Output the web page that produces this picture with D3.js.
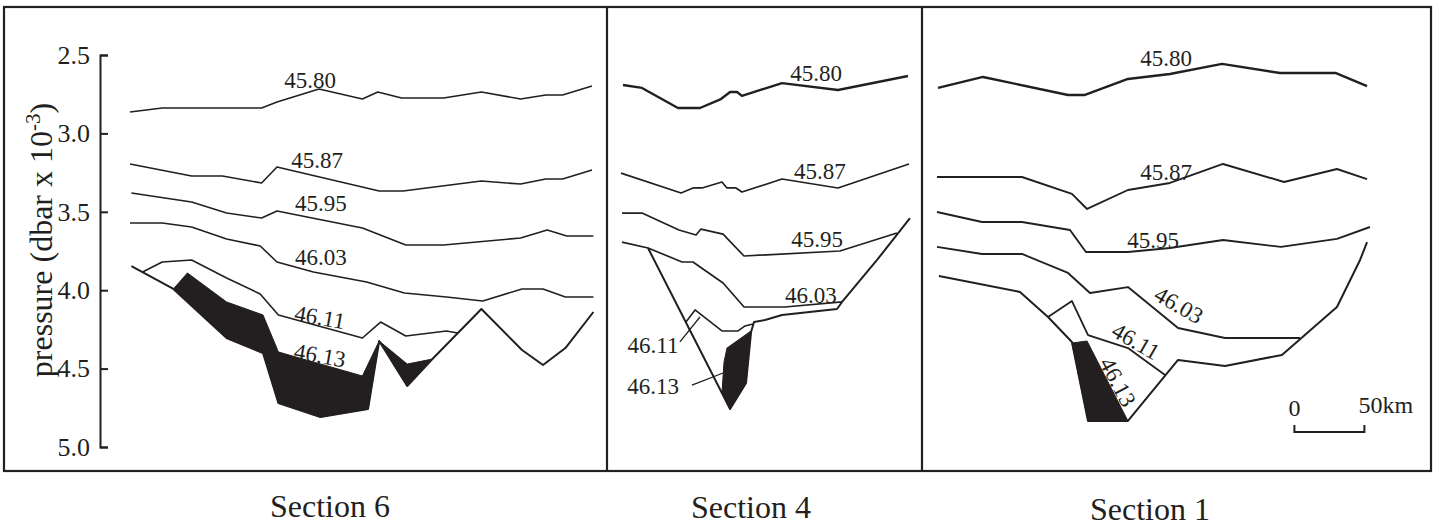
<!DOCTYPE html>
<html>
<head>
<meta charset="utf-8">
<script src="https://cdn.jsdelivr.net/npm/d3@7"></script>
<style>
  html, body { margin: 0; padding: 0; background: #fff; }
  svg { display: block; }
</style>
</head>
<body>
<div id="chart"></div>
<script>
// Salinity isolines across three sections.
// x = distance along section (km, from the panel's left edge), y = pressure (dbar x 10^-3)

const pressureTicks = [2.5, 3.0, 3.5, 4.0, 4.5, 5.0];
const sectionNames = ["Section 6", "Section 4", "Section 1"];
const isoValues = ["45.80", "45.87", "45.95", "46.03", "46.11"];

// Section 6
const s6Iso4580 = [[90,2.864],[113,2.838],[184,2.838],[195,2.800],[225,2.717],[256,2.781],[267,2.736],[284,2.774],[314,2.774],[341,2.736],[369,2.781],[387,2.755],[399,2.755],[420,2.698]];
const s6Iso4587 = [[90,3.195],[134,3.272],[156,3.272],[184,3.316],[195,3.214],[268,3.367],[285,3.367],[341,3.304],[369,3.323],[387,3.291],[399,3.291],[420,3.233]];
const s6Iso4595 = [[91,3.380],[134,3.438],[159,3.508],[184,3.540],[195,3.495],[256,3.603],[287,3.712],[314,3.712],[369,3.667],[388,3.616],[402,3.654],[421,3.654]];
const s6Iso4603 = [[90,3.571],[113,3.571],[134,3.597],[159,3.673],[183,3.718],[195,3.820],[221,3.884],[259,3.948],[286,4.018],[316,4.043],[342,4.069],[370,3.992],[385,3.992],[401,4.043],[421,4.043]];
const s6Iso4611 = [[99,3.884],[113,3.820],[134,3.807],[159,3.922],[183,4.024],[196,4.158],[256,4.305],[269,4.203],[287,4.292],[316,4.260],[324,4.273]];
const s6Floor = [[91,3.846],[121,3.992],[159,4.305],[185,4.401],[196,4.719],[226,4.809],[260,4.758],[268,4.324],[288,4.611],[306,4.439],[341,4.120],[370,4.381],[385,4.477],[401,4.369],[421,4.139]];
const s6Core = [[121,3.992],[131,3.890],[159,4.075],[185,4.158],[196,4.394],[256,4.547],[268,4.324],[288,4.471],[306,4.439],[288,4.611],[268,4.324],[260,4.758],[226,4.809],[196,4.719],[185,4.401],[159,4.305]];
const s6Labels = [[218.6,2.659,"45.80",0],[223.6,3.170,"45.87",0],[226.4,3.444,"45.95",0],[226.4,3.788,"46.03",0],[225.7,4.171,"46.11",10],[225.7,4.413,"46.13",10]];

// Section 4
const s4Iso4580 = [[11.4,2.691],[25,2.710],[50.7,2.838],[66.4,2.838],[81.4,2.781],[87.9,2.736],[92.9,2.736],[96.4,2.761],[125,2.679],[165,2.723],[215,2.634]];
const s4Iso4587 = [[10,3.253],[52.9,3.380],[61.4,3.348],[67.9,3.348],[82.1,3.310],[85.7,3.348],[92.1,3.348],[96.4,3.374],[125,3.291],[165,3.348],[215.7,3.195]];
const s4Iso4595 = [[10.7,3.508],[25,3.508],[51.4,3.616],[63.6,3.648],[67.1,3.610],[82.9,3.642],[97.9,3.782],[166.4,3.750],[207.1,3.635]];
const s4Iso4603 = [[10.7,3.693],[29.3,3.731],[53.6,3.820],[61.4,3.820],[82.9,3.954],[97.9,4.107],[127.1,4.107],[167.9,4.075]];
const s4Iso4611 = [[56.4,4.203],[62.9,4.126],[82.1,4.260],[93.6,4.260],[98.6,4.228],[104.3,4.216]];
const s4Floor = [[29.3,3.731],[87.9,4.758],[99.3,4.592],[102.9,4.267],[105,4.203],[112.9,4.190],[125,4.158],[164.3,4.120],[167.9,4.075],[192.9,3.807],[216.4,3.540]];
const s4Core = [[85.7,4.369],[102.9,4.260],[99.3,4.592],[87.9,4.758],[82.1,4.656],[83.6,4.458]];
const s4Labels = [[149.3,2.615,"45.80",0],[152.1,3.240,"45.87",0],[150,3.673,"45.95",0],[145.7,4.031,"46.03",0],[32.9,4.349,"46.11",0],[32.9,4.611,"46.13",0]];
const s4Leaders = [[[52.1,4.330],[66.4,4.171]], [[60.7,4.605],[82.9,4.528]]];

// Section 1
const s1Iso4580 = [[11.4,2.710],[43.6,2.640],[104.3,2.755],[116.4,2.755],[147.1,2.653],[177.1,2.621],[214.3,2.557],[255.7,2.615],[295.7,2.615],[317.9,2.698]];
const s1Iso4587 = [[10.7,3.278],[71.4,3.278],[107.1,3.386],[117.9,3.482],[147.1,3.361],[177.1,3.316],[215,3.195],[258.6,3.310],[296.4,3.227],[317.9,3.291]];
const s1Iso4595 = [[10.7,3.501],[42.9,3.565],[71.4,3.565],[105.7,3.616],[117.1,3.756],[147.1,3.756],[177.1,3.731],[215,3.680],[256.4,3.724],[296.4,3.673],[320,3.597]];
const s1Iso4603 = [[10.7,3.724],[42.9,3.769],[71.4,3.769],[104.3,3.890],[120,4.018],[147.1,3.980],[182.9,4.241],[216.4,4.305],[270,4.305]];
const s1Iso4611 = [[90,4.171],[107.1,4.069],[118.6,4.286],[147.1,4.369],[173.6,4.541]];
const s1Floor = [[12.1,3.909],[70,4.011],[90,4.171],[107.1,4.330],[118.6,4.834],[147.1,4.834],[182.9,4.445],[216.4,4.483],[257.1,4.413],[296.4,4.107],[312.9,3.807],[317.9,3.693]];
const s1Core = [[107.1,4.337],[117.9,4.324],[147.1,4.834],[118.6,4.834]];
const s1Labels = [[174.3,2.516,"45.80",0],[174.3,3.246,"45.87",0],[165,3.680,"45.95",0],[183.6,4.094,"46.03",30],[152.9,4.324,"46.11",30],[140,4.585,"46.13",62]];

const scaleBarKm = [0, 50];

// layout
const W = 1437, H = 529;
const INK = "#231f20";
const FONT = "'Liberation Serif', 'Times New Roman', serif";
const PX_PER_KM = 1.4;

const panels = [
  { name: sectionNames[0], left: 4, right: 607, titleX: 330, titleY: 517,
    lines: [s6Iso4580, s6Iso4587, s6Iso4595, s6Iso4603, s6Iso4611], widths: [1.6, 1.6, 1.6, 1.6, 1.6],
    floor: s6Floor, core: s6Core, labels: s6Labels, leaders: [] },
  { name: sectionNames[1], left: 607, right: 922, titleX: 751, titleY: 518,
    lines: [s4Iso4580, s4Iso4587, s4Iso4595, s4Iso4603, s4Iso4611], widths: [2.4, 1.7, 1.7, 1.7, 1.6],
    floor: s4Floor, core: s4Core, labels: s4Labels, leaders: s4Leaders },
  { name: sectionNames[2], left: 922, right: 1431, titleX: 1150, titleY: 520,
    lines: [s1Iso4580, s1Iso4587, s1Iso4595, s1Iso4603, s1Iso4611], widths: [2.4, 1.9, 1.9, 1.9, 1.8],
    floor: s1Floor, core: s1Core, labels: s1Labels, leaders: [] }
];

const svg = d3.select("#chart").append("svg")
  .attr("width", W).attr("height", H)
  .attr("font-family", FONT);

const y = d3.scaleLinear().domain([2.5, 5.0]).range([55, 447]);

panels.forEach((p, i) => {
  const x = d3.scaleLinear()
    .domain([0, (p.right - p.left) / PX_PER_KM])
    .range([p.left, p.right]);
  const line = d3.line().x(d => x(d[0])).y(d => y(d[1]));
  const g = svg.append("g").attr("class", "panel");

  // salty core (46.13) as filled region
  g.append("path")
    .attr("d", line(p.core) + "Z")
    .attr("fill", INK).attr("stroke", INK).attr("stroke-width", 1)
    .attr("stroke-linejoin", "round");

  p.lines.forEach((d, j) => {
    g.append("path")
      .attr("d", line(d))
      .attr("fill", "none").attr("stroke", INK)
      .attr("stroke-width", p.widths[j])
      .attr("stroke-linejoin", "round");
  });

  // sea floor
  g.append("path")
    .attr("d", line(p.floor))
    .attr("fill", "none").attr("stroke", INK)
    .attr("stroke-width", 2).attr("stroke-linejoin", "round");

  p.leaders.forEach(d => {
    g.append("path").attr("d", line(d))
      .attr("fill", "none").attr("stroke", INK).attr("stroke-width", 1.3);
  });

  g.selectAll("text.iso").data(p.labels).enter().append("text")
    .attr("class", "iso")
    .attr("transform", d => `translate(${x(d[0])},${y(d[1])}) rotate(${d[3]})`)
    .attr("text-anchor", "middle").attr("dy", "0.35em")
    .attr("font-size", 23).attr("fill", INK)
    .text(d => d[2]);

  svg.append("text")
    .attr("x", p.titleX).attr("y", p.titleY)
    .attr("text-anchor", "middle").attr("font-size", 32).attr("fill", INK)
    .text(p.name);

  // scale bar in the last panel
  if (i === 2) {
    const sb = svg.append("g");
    const x0 = x(266 + scaleBarKm[0]), x1 = x(266 + scaleBarKm[1]);
    sb.append("path")
      .attr("d", `M${x0},425V432H${x1}V425`)
      .attr("fill", "none").attr("stroke", INK).attr("stroke-width", 2);
    sb.append("text").attr("x", x0).attr("y", 416).attr("text-anchor", "middle")
      .attr("font-size", 24).attr("fill", INK).text(scaleBarKm[0]);
    sb.append("text").attr("x", x1 - 6).attr("y", 413).attr("text-anchor", "start")
      .attr("font-size", 24).attr("fill", INK).text(scaleBarKm[1] + "km");
  }
});

// frame and dividers
svg.append("rect")
  .attr("x", 4).attr("y", 7).attr("width", 1427).attr("height", 464)
  .attr("fill", "none").attr("stroke", INK).attr("stroke-width", 2.2);
[607, 922].forEach(xx => {
  svg.append("line").attr("x1", xx).attr("x2", xx).attr("y1", 7).attr("y2", 471)
    .attr("stroke", INK).attr("stroke-width", 2.2);
});

// pressure axis
const axis = d3.axisLeft(y)
  .tickValues(pressureTicks)
  .tickFormat(d3.format(".1f"))
  .tickSizeInner(-8).tickSizeOuter(-8).tickPadding(10);

svg.append("g")
  .attr("transform", "translate(100,0)")
  .call(axis)
  .call(g => {
    g.attr("font-family", FONT).attr("font-size", 26);
    g.select(".domain").attr("stroke", INK).attr("stroke-width", 2);
    g.selectAll(".tick line").attr("stroke", INK).attr("stroke-width", 2);
    g.selectAll(".tick text").attr("fill", INK);
  });

const title = svg.append("text")
  .attr("transform", "translate(52,240) rotate(-90)")
  .attr("text-anchor", "middle").attr("font-size", 32).attr("fill", INK);
title.append("tspan").text("pressure (dbar x 10");
title.append("tspan").attr("dy", -12).attr("font-size", 21).text("-3");
title.append("tspan").attr("dy", 12).text(")");
</script>
</body>
</html>
